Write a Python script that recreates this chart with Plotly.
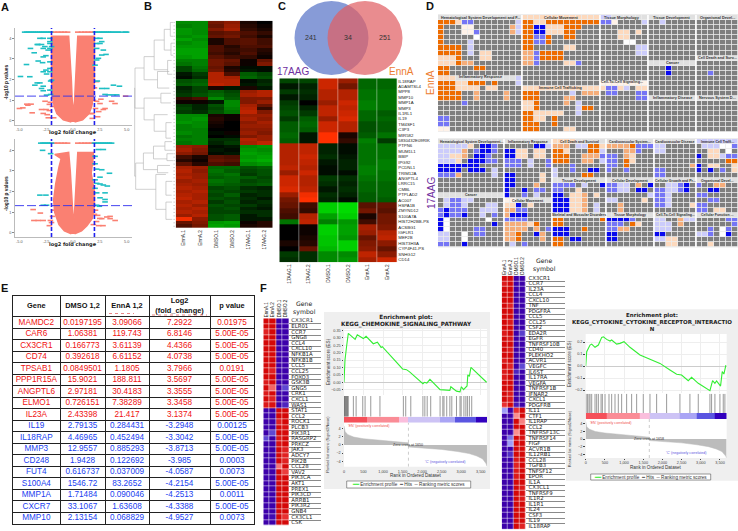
import plotly.graph_objects as go

W, H = 738, 531
FONT = "Liberation Sans"

# ---- panel A, volcano plots
v1_fill_x = [-0.15, -0.9, -1.5, -1.75, -1.9, -2, -2, -2, -0.4, -0.25, -0.15, -0.07, 0.05, 0.15, 0.25, 0.35, 0.45, 2, 2, 2, 1.9, 1.75, 1.5, 0.9, 0.15]
v1_fill_y = [-0.05, 0.05, 0.35, 0.7, 1.2, 2, 2.7, 4.1, 4.1, 3, 2, 1, 0.35, 1, 2, 3, 4.1, 4.1, 2.7, 2, 1.2, 0.7, 0.35, 0.05, -0.05]
v1_top_x = [-2, -1.7, -1.4, -1.1, -0.8, -0.5, 0.45, 0.8, 1.1, 1.4, 1.7, 2]
v1_pink_x = [-4.99, -4.67, -4.2, -3.9, -3.8, -4.3, -2.93, -2.77, 1.6, 2.52, 2.83, 2.99, 3.6, 3.92, 1.74, -2.4, -2.2, -1.9, -2.1, -1.8, 1.9, 2.1, 1.8, -1.95, 2.0, 2.2, 4.9, -2.3, -2.6, -2.5, -2.2, 2.3, 2.4, 2.2, 2.6, -1.8, 1.8]
v1_pink_y = [0.6, 0.63, 0.76, 0.81, 0.39, 0.81, 0.55, 0.36, 0.84, 0.84, 0.55, 0.6, 0.95, 0.84, 0.36, 0.3, 0.5, 0.7, 0.9, 1.1, 1.0, 0.6, 0.35, 1.5, 1.6, 1.9, 1.2, 0.15, 0.95, 0.55, 0.8, 0.2, 0.45, 0.95, 1.05, 0.15, 0.12]
v1_cyan_x = [-3.08, -2.77, -2.15, -3.33, -2.93, -2.15, -3.24, -2.62, -2.15, -2.31, -2.77, -1.99, -3.96, -3.61, -2.15, -2.52, -2.77, -3.24, -2.83, -4.33, -2.15, -2.15, -2.52, -2.77, -2.15, -2.46, -4.89, -4.02, -1.99, -2.08, -3.33, -3.08, -3.55, -2.77, -2.93, -2.77, -2.46, -2.08, -2.15,
             2.21, 2.52, 2.68, 2.21, 2.52, 2.21, 2.83, 3.08, 2.68, 2.37, 2.21, 2.06, 2.27, 2.68, 3.15, 3.77, 4.33, 2.99, 3.3, 3.77, 4.08]
v1_cyan_y = [4.0, 4.0, 4.0, 3.7, 3.7, 3.75, 3.7, 3.6, 3.84, 3.43, 3.51, 3.6, 3.51, 3.3, 3.51, 3.16, 3.1, 2.9, 2.82, 2.73, 2.86, 2.54, 2.46, 2.38, 2.38, 2.27, 2.15, 2.14, 1.97, 1.93, 1.84, 1.84, 1.73, 1.68, 1.57, 1.46, 1.25, 1.28, 1.49,
             4.0, 4.0, 3.84, 3.75, 3.75, 3.51, 3.43, 3.22, 3.19, 3.03, 2.95, 2.7, 1.93, 1.57, 1.57, 1.73, 1.68, 1.28, 1.26, 1.26, 1.26]
v1_cyan_top = [-4.5, -4.3, -4.1, -3.9, -3.7, -3.5, -3.3, -3.1, -2.9, -2.7, -2.5, -2.3, -2.1, 2.1, 2.3, 2.5, 2.7, 2.9, 3.1, 3.3, 3.5, 3.7, 4.0, 4.2, 4.5, 4.9, 5.0]
v1_cut = 1.2

v2_fill_x = [-0.15, -0.8, -1.3, -1.7, -1.8, -1.6, -1.3, -1.1, -1.7, -0.4, -0.25, -0.15, -0.05, 0.05, 0.15, 0.25, 0.35, 0.45, 1.9, 1.9, 1.7, 2, 2, 1.8, 1.3, 0.8, 0.15]
v2_fill_y = [-0.05, 0.1, 0.4, 1, 1.6, 2.4, 3.2, 3.6, 3.8, 3.9, 3, 2, 1, 0.4, 1, 2, 3, 3.9, 3.9, 3.7, 2.9, 2, 1.3, 0.7, 0.35, 0.1, -0.05]
v2_top_x = [-2, -1.7, -1.4, -1.1, -0.8, -0.5, 0.45, 0.8, 1.1, 1.4, 1.7, 2]
v2_pink_x = [-3.71, -3.04, -3.64, -3.24, -2.77, 3.46, 3.46, 3.93, 2.68, 3.15, 1.9, 2.2, 2.4, 2.0, -1.9, -1.8, -2.0, 1.8, 2.1, 2.3, -2.2, -2.1, 2.5, 2.8]
v2_pink_y = [1.13, 0.96, 0.6, 0.6, 0.6, 0.69, 0.8, 0.6, 0.69, 0.77, 0.4, 0.55, 0.35, 0.9, 0.8, 1.1, 0.5, 3.3, 1.1, 0.85, 0.35, 0.6, 0.7, 0.35]
v2_cyan_x = [-2.83, -2.08, 2.37, 2.83, 2.06, 2.06, 2.21, 2.68, 3.4, 2.52, 2.06, 2.21, 2.52, 2.83, 3.2, 2.06, 2.21, 2.99, 2.52, 2.99, -3.08, -2.52, -2.77, -2.46, 2.21, 2.46, 2.99]
v2_cyan_y = [4.0, 3.84, 4.04, 4.04, 3.71, 3.35, 3.09, 3.06, 2.89, 2.7, 2.57, 2.4, 2.37, 2.32, 2.27, 2.16, 1.94, 1.94, 1.7, 1.5, 1.83, 1.83, 1.34, 1.34, 1.34, 1.29, 1.62]
v2_cyan_top = [-3, -2.8, -2.6, -2.4, -2.2, -2, 2, 2.2, 2.4, 2.6, 2.8, 3, 3.2, 3.4, 3.6]
v2_cut = 1.32

# ---- panel B, clustered heatmap
b_columns = ["EnnA.1", "EnnA.2", "DMSO.1", "DMSO.2", "17AAG.1", "17AAG.2"]
b_rows = [
    [-.6, -.6, .45, .55, .1, .0], [-.55, -.6, .4, .6, .15, .05], [-.65, -.6, .5, .65, .2, .1],
    [-.65, -.6, .35, .4, .3, .2], [-.6, -.65, .4, .45, .25, .1], [-.7, -.6, .1, .3, .35, .25],
    [-.6, -.65, .1, .3, .35, .25], [-.65, -.65, .3, .15, .3, .3], [-.7, -.7, .3, .2, .25, .15],
    [-.7, -.7, .25, .15, .3, .1], [-.65, -.7, .35, .25, .2, .05], [-.55, -.55, .45, .4, .05, .4],
    [-.5, -.55, .45, .35, .05, .5], [-.3, -.5, .4, .1, -.05, -.05], [-.3, -.45, .45, .15, -.1, -.05],
    [-.1, -.25, .7, .3, -.4, -.3], [-.05, -.2, .7, .65, -.45, -.35], [-.35, -.4, .7, .7, -.05, -.15],
    [-.4, -.45, .75, .7, -.1, -.2], [-.15, -.3, .1, -.1, .1, -.1], [-.2, -.3, -.4, -.3, .6, .7],
    [-.25, -.35, -.45, -.35, .65, .7], [.2, .3, -.6, -.4, .5, .5], [.05, .05, -.1, -.6, .5, .6],
    [-.25, -.15, -.35, -.6, .65, .4], [-.3, -.15, -.3, -.55, .7, .2], [-.25, -.2, -.35, -.5, .75, .5],
    [-.6, -.6, .1, .05, .6, .6], [-.6, -.65, .15, .05, .65, .55], [-.65, -.6, .1, .0, .55, .65],
    [-.55, -.6, .05, .0, .6, .6], [-.55, -.55, 0, 0, .55, .55], [-.6, -.55, -.05, .05, .6, .5],
    [-.5, -.55, 0, -.05, .5, .6], [-.55, -.55, -.2, -.2, .7, .6], [-.5, -.55, -.15, -.25, .65, .75],
    [.6, .55, -.05, -.1, -.6, -.65], [.65, .5, -.1, -.05, -.65, -.6], [.55, .45, -.05, -.1, -.7, -.65],
    [.25, .1, .35, .3, -.65, -.7], [.15, .05, .4, .35, -.7, -.75], [.35, .15, .3, .25, -.6, -.65],
    [.65, .6, -.45, -.45, -.35, -.4], [.7, .55, -.5, -.4, -.3, -.35], [.65, .6, -.45, -.5, -.25, -.35],
    [.7, .6, -.4, -.45, -.4, -.3], [.6, .65, -.5, -.45, -.3, -.35], [.65, .6, -.45, -.4, -.35, -.4],
    [.7, .65, -.3, -.35, -.2, -.15], [.65, .7, -.35, -.3, -.25, -.2], [.7, .65, -.3, -.4, -.15, -.2],
    [.75, .65, -.35, -.3, -.2, -.1], [.65, .7, -.25, -.35, -.15, -.2], [.7, .6, -.35, -.3, -.25, -.15],
    [.65, .7, -.3, -.35, -.15, -.1], [.7, .65, -.3, -.3, -.2, -.2], [.6, .7, -.35, -.4, -.1, -.2],
    [.95, .55, -.35, -.4, -.1, -.1], [.4, .5, -.65, -.7, .05, .15], [.3, .45, -.7, -.65, .1, .15],
]
# height, row a, child height a, row b, child height b
b_brackets = [
    (120, 19, 119, 44.5, 117), (119, 13.2, 92, 24.8, 92), (92, 9.9, 62, 16.6, 52), (62, 5.1, 32, 13.7, 22),
    (52, 14.2, 17, 19, 17), (92, 21.9, 42, 28.2, 62), (42, 20.5, 12, 23.3, 12), (62, 26.7, 22, 31.5, 27),
    (117, 40.7, 94, 48.3, 57), (94, 37.8, 64, 42.6, 52), (64, 35.8, 30, 39.5, 24), (52, 41.4, 15, 43.5, 20),
    (57, 44, 27, 54.1, 27), (32, 2, 14, 8, 12), (22, 11, 10, 15, 8), (27, 29, 10, 33.5, 12), (27, 46, 8, 50, 10),
    (27, 52, 9, 57, 8), (30, 34.5, 9, 37, 7), (24, 38, 6, 40, 6), (14, 0, 6, 4, 6), (12, 6, 5, 9.5, 5),
]
b_leaf_rows = [0, 1, 2, 3, 4, 5, 6, 7, 8, 9, 10, 11, 12, 13, 14, 15, 16, 17, 18, 19, 20, 21, 22, 23, 24, 25, 26, 27, 28, 29, 30, 31, 32, 33, 34, 35, 36, 37, 38, 39, 40, 41, 42, 43, 44, 45, 46, 47, 48, 49, 50, 51, 52, 53, 54, 55, 56, 57, 58, 59]

# ---- panel C
venn_counts = ["241", "34", "251"]
c_columns = ["17AAG.1", "17AAG.2", "DMSO.1", "DMSO.2", "EnnA.1", "EnnA.2"]
c_genes = ["IL18RAP", "ADAMTSL4", "MPP8", "MMP10", "MMP1A", "MMP3", "IL1RL1", "IL19", "TM4SF1", "C3P3", "MIR582", "5830432E09RIK",
           "PTPN6", "MUM1L1", "BBIP", "IPG92", "PCDNL1", "TRIM12A", "ANGPTL4", "LRRC15", "CMBL", "PTPLAD2", "AC007",
           "HSPA1B", "ZMYND12", "S100A7A", "HIST2H2BB-PS", "ACSBG1", "IGFLR1", "MEF2B", "HIST3H3A", "CYP4F41-PS", "SNHG12", "CD14"]
c_rows = [
    [-.3, -.3, .8, .6, -.45, -.45], [-.1, -.15, .8, .45, -.45, -.45], [-.25, -.2, .7, .7, -.5, -.5], [-.1, -.15, .7, .7, -.5, -.5],
    [-.25, 0, .6, .8, -.55, -.5], [-.3, -.15, .75, .75, -.55, -.5], [-.35, -.25, .75, .8, -.45, -.4], [-.25, -.4, .6, .85, -.45, -.45],
    [-.4, -.45, .8, .7, -.35, -.4], [-.4, -.4, .8, .7, -.35, -.4], [-.45, -.1, 1, .1, -.4, -.5], [-.4, -.1, 1, .2, -.55, -.25],
    [.7, .75, -.15, -.05, -.5, -.5], [.7, .75, -.15, -.05, -.5, -.5], [.7, .8, -.2, -.1, -.5, -.5], [.7, .75, -.1, -.15, -.5, -.55],
    [.75, .7, -.05, -.15, -.55, -.55], [.6, .8, -.05, -.05, -.55, -.5], [.8, .7, -.25, -.2, -.5, -.5], [.8, .7, -.2, -.15, -.45, -.45],
    [.85, .75, -.1, -.2, -.45, -.45], [.6, .95, -.2, -.15, -.4, -.45], [.45, 1, -.15, -.05, -.4, -.4],
    [.4, .25, -.9, -.95, .35, .4], [.3, .2, -.9, -.95, .45, .35], [.25, .7, -.7, -.9, .1, .45], [-.5, .75, -.55, -.65, .25, .45],
    [0, .05, -.9, -.7, .65, .5], [0, .05, -.9, -.7, .6, .7], [0, .1, -.85, -.65, .4, .75], [.1, .15, -.85, -.9, .5, .55],
    [0, .4, -.8, -.9, .55, .4], [-.25, -.2, -.6, -.6, .75, .55], [-.2, -.2, -.6, -.65, .65, .8],
]

# ---- panel D, treemaps coded by tile: . grey, t title, q pale, a peach, b light orange, c orange, x lavender, y periwinkle, z blue, w white
dot = "."
top_blood = ["tttttttttttttt", "cccayy.......x", "c...qq......bx", "c...qqy.....bx", "c.....w.......", "c....x........", "cccc.x........", "cccc.x.aa.....",
             "aaac...aa.....", "aaacbb........", "cc....cc......", "cc............", "aaattttttttttx", "cccaaccc.c...x", "cccaaaa.aa....", "cccc..b....b..",
             "cccc..b....b..", "....y.........", "", "", "yy............", "yy............", "qq............"]
top_move = ["aaaaaaaaaaaaa", "ccaaccccccccc", "cczzaaaccc...", "cczzaaacc....", "ccyyc..cc....", "ccyyc........", "cc.....aa....", "bbycccc......", "bbycccc......",
            "bby....aay...", "", "", "", "", "aaaaaaaaaaaaa", "ccc.....x.bbb", "ccc....bb....", "aac....b.x...", "aac......xcc.", "ccaaaaa..x...", "ccaa.c.......",
            "ccc..c.......", "ccc....aa...."]
top_tissue = ["xxtttttt", "yyq....x", "", "...aa.a.", "...aa...", "....ww..", "......xx", "......xx", "", "", "", "", "", "qqqqqqqq", "ayyax.aa", ".yy...yy", "......yy"]
top_dev = ["tttttttt", "..x.....", "", "", "", "", "", "", "", "tttttttt", "...z....", "...z....", "", "", "", "", "tttttttt"]
top_organ = ["ttttttt", "", "", "", "", "", "", "", "ttttttt", "", "", "..y....", "", "", "", "", "ttttttt"]
top_titles = ["Hematological System Development and F...", "Cellular Movement", "Tissue Morphology", "Tissue Development", "Organismal Devel...", "Inflammatory Response",
              "Immune Cell Trafficking", "Cell-To-Cell Signaling...", "Cancer", "Cell Death and Surv...", "Inflammatory Disease", "Nervous System D..."]

bot_blood = ["ttttttttttt", "xxxxxa.zzy.", "xxxxb.yzzy.", "xxaab.zzy..", "xxxa.zzzyy.", "zzzzzzz....", "zzzz.zzz.x.", "yyyb.....x.", "", "", "", "ttttttttttt", ".xyyxx.....",
             ".xyyx...xx.", "yzyyy..xxx.", "yzyyz..x.y.", "zw......w..", "zw.......z.", "zw....yy...", "xx..w.yy...", "xx..w......", "yy..z......"]
bot_inflam = ["tttttttt", ".....zzx", "zzaa.aa.", "zzaa.aa.", "yyy.x..y", "yyy.x..y", "", "zz....a.", "zz....a.", "zz...b..", "z..z.yy.", "z..y.x..", "qqtttttt", "aaz.a...",
              "bbyy....", "bzzz....", "yyyy....", "bbbbac..", "bbbb.b.y", "bbc..zb.", "bbc...b.", ".x.y...."]
bot_death = ["aaaattttt", "bbb.xxcca", "cca...ccx", "ccc..bbby", "ccc..bb.x", "...y.....", "x..y..zz.", "x....cc..", "ttttttttt", "yyyy.x..z", "yy..a....", "zz.aab.a.", "zzzaab...",
             "zzzaab.x.", "zzzaab.x.", "ttttttttt", "cc......c", "cc.......", "zzz..c...", "zzz......", "cc.zz....", "cc......."]
bot_cardio = ["tttttttt", "bbbbcyyy", "...bby..", "yy.ba...", "yy.ca...", "yy.c....", "y..y....", "", "tttttttt", "yyxx.b.z", "yyxx.zz.", ".......x", "xx....a.", "..b.....",
              "..b.....", "tttttttt", "zzzzy...", "yyy.ca..", "yybb....", "zz......", "zz......", ""]
bot_disease = ["ttttttt", "xx.....", "xx.....", "", "", "......b", "yy.....", "yy.....", "ttttttt", "..xxyz.", "yyxxyz.", "yyx....", "yyx....", "yyx...a", "", "ttttttt", "xx..bxx",
               "xxx.b..", "xxx....", "zz.....", "xxaa...", "..aa..."]
bot_immune = ["xxxxxxx", ".xxxwwy", "..aa.w.", "z.aaxyy", ".....cc", "z.aa..a", "z.z.y.a", "", "ttttttt", "y..bb..", "..zz...", "yy.....", "..yy...", "yy.....", "yy.aa..", "ttttttt",
              ".....yy", "......y", "..y.wy.", "xxy.wz.", "", "..a...."]
bot_titles = ["Hematological System Development...", "Inflammatory Response", "Cell Death and Survival", "Cardiovascular System...", "Cardiovascular Disease", "Immune Cell Traffi...", "Cancer",
              "Cellular Movement", "Tissue Development", "Skeletal and Muscular Disorders", "Cellular Development", "Cellular Growth and Pr...", "Organismal Devel...", "Tissue Morphology",
              "Cell-To-Cell Signaling...", "Cellular Function ..."]

# ---- panel E
table_header = ["Gene", "DMSO 1,2", "EnnA 1,2", "Log2<br>(fold_change)", "p value"]
table_genes = ["MAMDC2", "CAR6", "CX3CR1", "CD74", "TPSAB1", "PPP1R15A", "ANGPTL6", "ELMO1", "IL23A", "IL19", "IL18RAP", "MMP3", "CD248", "FUT4", "S100A4", "MMP1A", "CXCR7", "MMP10"]
table_dmso = ["0.0197195", "1.06381", "0.166773", "0.392618", "0.0849501", "15.9021", "2.97181", "0.726151", "2.43398", "2.79135", "4.46965", "12.9557", "1.9428", "0.616737", "1546.72", "1.71484", "33.1067", "2.13154"]
table_enna = ["3.09066", "119.743", "3.61139", "6.61152", "1.1805", "188.811", "30.4183", "7.38289", "21.417", "0.284431", "0.452494", "0.885293", "0.122692", "0.037009", "83.2652", "0.090046", "1.63608", "0.068829"]
table_log2 = ["7.2922", "6.8146", "4.4366", "4.0738", "3.7966", "3.5697", "3.3555", "3.3458", "3.1374", "-3.2948", "-3.3042", "-3.8713", "-3.985", "-4.0587", "-4.2154", "-4.2513", "-4.3388", "-4.9527"]
table_p = ["0.01975", "5.00E-05", "5.00E-05", "5.00E-05", "0.0191", "5.00E-05", "5.00E-05", "5.00E-05", "5.00E-05", "0.00125", "5.00E-05", "5.00E-05", "0.0003", "0.0073", "5.00E-05", "0.0011", "5.00E-05", "0.0073"]
table_up = 9

# ---- panel F
f_columns = ["EnnA.1", "EnnA.2", "DMSO.1", "DMSO.2"]
f1_genes = ["CX3CR1", "ELR01", "CCR7", "GNG8", "CCL4", "CXCL10", "NFKB1A", "NFKB1B", "CCL5", "CCL25", "FOXO3", "GSK3B", "GNG5", "CRK1", "CXCL1", "WAS1", "STAT1", "CCL2", "ROCK1",
            "PLCB3", "PIK3R1", "RASGRP2", "PRKCZ", "JAK3", "ADCY7", "PIK2B", "CCL28", "VAV2", "PIK3CA", "AKT1", "PREX1", "PIK3CD", "ARRB1", "PIK3R2", "GNB4", "CX3CL1", "CSK"]
f1_rows = [
    [.95, .95, -.9, -.9], [.9, .95, -.9, -.9], [.7, .95, -.9, -.9], [.95, .9, -.9, -.9], [.95, .95, -.9, -.9], [.95, .95, -.9, -.9], [.9, .95, -.9, -.9], [.95, .9, -.9, -.9], [.95, .95, -.9, -.9],
    [.95, .7, -.9, -.9], [.95, .95, -1, -.9], [.75, .9, -.9, -.9], [.95, .4, -.9, -.5], [.75, .95, -.9, -.9], [.95, .7, -.9, -.9], [.75, .8, -.9, -.65],
    [-.9, -.9, .95, .9], [-.9, -.9, .9, .95], [-.9, -.85, .7, .95], [-.9, -.9, .95, .8], [-.95, -.5, .95, .85], [-.5, -.9, .75, .95], [-.9, -.85, .8, .95], [-.9, -.9, .95, .7], [-.9, -.9, .95, .7],
    [-1, -.9, .95, .7], [-.95, -.9, .35, .9], [-.9, -.9, .95, .55], [-.9, -.9, .95, .9], [-.9, -.9, .95, .95], [-.9, -.9, .9, .95], [-.9, -.9, .95, .9], [-1, -.9, .95, .95], [-.9, -1, .95, .9], [-.9, -.9, .9, .95],
    [-.9, -.75, .95, .6], [-.9, -.9, .95, .95],
]
f2_genes = ["CX3CR1", "CCR7", "IL23A", "CCL4", "CXCL10", "TNF", "PDGFRA", "CCL5", "CCL25", "CSF2", "EDA2R", "EGFR", "TNFRSF10B", "CD40", "PLEKHO2", "ACVR1", "VEGFC", "IL6ST", "IL17RA", "VEGFA",
            "TNFRSF1B", "IFNAR2", "CXCL1", "PDGFRB", "IL11", "CTF1", "IL1RAP", "CCL2", "TNFRSF13C", "TNFRSF14", "FIGF", "ACVR1B", "IL12RB1", "CCL28", "TGFB3", "TNFSF12", "EPOR", "IL1A", "CX3CL1",
            "TNFRSF9", "IL1R2", "IL1R1", "IL24", "CSF3", "IL19", "IL18RAP"]
f2_rows = [
    [.95, .95, -.9, -.9], [.75, .95, -.9, -.9], [.95, .9, -.9, -.9], [.95, .95, -.9, -.9], [.95, .9, -.9, -.9], [.95, .7, -.9, -1], [.95, .95, -.9, -.9], [.95, .9, -.9, -.9], [.95, .75, -.9, -.9],
    [.95, .95, -.9, -1], [.75, .95, -.9, -.55], [.95, .75, -.9, -.9], [.95, .95, -.9, -.9], [.95, .75, -.9, -.9], [.9, .95, -.9, -.9], [.75, .95, -.9, -.9], [.95, .7, -.9, -.5], [.75, .95, -.65, -.9],
    [.75, .95, -.9, -.9], [.95, .95, -.9, -.9], [.95, .95, -1, -.9], [.95, .75, -.9, -.9], [.95, .75, -.9, -.9], [.6, .95, -.7, -.85],
    [-.25, -.9, .6, .95], [-.9, -.9, .25, .95], [-.9, -.9, .95, .3], [-1, -.9, .95, .95], [-1, -.9, .25, .95], [-.9, -.35, .95, .8], [-.9, -.25, .95, .95], [-.9, -.9, .95, .85], [-.9, -.6, .95, .95],
    [-.9, -1, .75, .95], [-.9, -.9, .7, .95], [-.95, -1, .75, .95], [-1, -.9, .75, .95], [-1, -.9, .95, .95], [-.9, -1, .95, .75], [-.9, -.9, .95, .8], [-.9, -.9, .95, .75], [-.9, -.9, .95, .95],
    [-.9, -.9, .95, .95], [-.9, -.9, .95, .95], [-.9, -.9, .95, .9], [-.9, -.9, .95, .7],
]

g1_title = "Enrichment plot:<br>KEGG_CHEMOKINE_SIGNALING_PATHWAY"
g1_rank = [0, 25, 70, 110, 285, 340, 495, 565, 750, 855, 950, 980, 1500, 1600, 1680, 2020, 2060, 2120, 2200, 2460, 2710, 2735, 2880, 2970, 3005, 3060, 3150, 3170, 3210, 3250, 3650]
g1_es = [0, .15, .25, .33, .29, .32, .295, .31, .26, .27, .235, .24, .09, .085, .07, -.01, 0, -.005, .02, -.05, -.055, -.03, -.06, -.065, -.03, -.05, -.025, .05, .04, .1, 0]
g1_hits = [5, 15, 30, 45, 60, 75, 90, 110, 240, 310, 480, 540, 685, 920, 1520, 1580, 1710, 2020, 2070, 2130, 2220, 2460, 2530, 2560, 2630, 2710, 2760, 2880, 2970, 3000, 3070, 3120, 3160, 3210, 3270]
g1_metric_rank = [0, 30, 100, 250, 500, 900, 1300, 1650, 1650, 2000, 2500, 2900, 3200, 3400, 3550, 3640, 3660]
g1_metric = [4.6, 3.2, 2.5, 1.9, 1.5, 1.1, .8, .5, -.5, -.7, -1.1, -1.6, -2.1, -2.7, -3.4, -4.6, -5.2]
g1_band_edges = [0, 580, 1400, 1650, 2470, 2850, 3370, 3661]
g1_zero = 1650

g2_title = "Enrichment plot:<br>KEGG_CYTOKINE_CYTOKINE_RECEPTOR_INTERACTIO<br>N"
g2_rank = [0, 26, 113, 156, 243, 330, 417, 460, 547, 634, 677, 807, 894, 998, 1154, 1415, 1675, 1936, 2196, 2370, 2500, 2673, 2760, 2934, 3238, 3307, 3368, 3411, 3515, 3559, 3602, 3654]
g2_es = [0, .12, .175, .183, .156, .175, .239, .244, .222, .208, .217, .183, .189, .203, .156, .092, .056, .022, -.033, -.069, -.075, -.122, -.094, -.144, -.206, -.122, -.144, -.125, -.167, -.047, -.067, .008]
g2_hits = [10, 45, 85, 113, 156, 243, 286, 330, 400, 434, 503, 607, 677, 764, 850, 937, 1067, 1197, 1328, 1501, 1675, 1849, 2109, 2456, 2716, 2934, 3238, 3281, 3368, 3498, 3585, 3628]
g2_metric_rank = [0, 30, 100, 250, 500, 800, 1100, 1660, 1660, 2000, 2500, 2900, 3200, 3400, 3550, 3650, 3670]
g2_metric = [4.6, 3.2, 2.6, 2.0, 1.6, 1.3, 1.0, .5, -.4, -.6, -1, -1.5, -2, -2.6, -3.3, -4.5, -5]
g2_band_edges = [0, 550, 1415, 1660, 2460, 2890, 3370, 3675]
g2_zero = 1658
band_values = [0, 1, 2, 3, 4, 5, 6]
band_colors = ["#f5505a", "#fa8c96", "#fabedc", "#cdc3f5", "#aaa5f5", "#5a55e1", "#3200be"]

traces = []
layout = {}
shapes = []
notes = []
axis_no = 0
rg_scale = [[0, "#00e600"], [.5, "#000000"], [1, "#ff3000"]]
br_scale = [[0, "#3c00aa"], [.1, "#3c00aa"], [.3, "#6a60e0"], [.38, "#a0a0f8"], [.5, "#ffffff"], [.62, "#fa9090"], [.8, "#e83030"], [.93, "#d40808"], [1, "#d40808"]]


def panel(x0, y0, x1, y1, xkw=None, ykw=None):
    # one pair of axes placed by its pixel rectangle
    global axis_no
    axis_no += 1
    n = axis_no
    blank = dict(showgrid=False, zeroline=False, showticklabels=False, ticks="", showline=False)
    xa = dict(blank, domain=[x0 / W, x1 / W], anchor=f"y{n}")
    ya = dict(blank, domain=[1 - y1 / H, 1 - y0 / H], anchor=f"x{n}")
    xa.update(xkw or {})
    ya.update(ykw or {})
    layout[f"xaxis{n}"] = xa
    layout[f"yaxis{n}"] = ya
    return f"x{n}", f"y{n}"


def note(x, y, text, size=5, color="#222222", angle=0, anchor="center", family=FONT, **kw):
    notes.append(dict(x=x / W, y=1 - y / H, xref="paper", yref="paper", text=text, showarrow=False, textangle=angle,
                      xanchor=anchor, yanchor="middle", font=dict(size=size, color=color, family=family), **kw))


def box(x0, y0, x1, y1, fill="rgba(0,0,0,0)", line=None, width=1, kind="rect", layer="below"):
    shapes.append(dict(type=kind, xref="paper", yref="paper", x0=x0 / W, x1=x1 / W, y0=1 - y1 / H, y1=1 - y0 / H, fillcolor=fill,
                       line=dict(color=line or "rgba(0,0,0,0)", width=width if line else 0), layer=layer))


def volcano(x0, y0, y1, yrange, fill_x, fill_y, top_x, pink_x, pink_y, cyan_x, cyan_y, cyan_top, cut):
    tick = dict(size=3.8, color="#555555", family=FONT)
    xa, ya = panel(x0, y0, 132, y1,
                   dict(range=[-5.4, 5.5], tickvals=[-5, -2.5, 0, 2.5, 5], ticktext=["-5.0", "-2.5", "0.0", "2.5", "5.0"], showticklabels=True, tickfont=tick,
                        ticks="outside", ticklen=.5, tickwidth=.5, tickcolor="#888888", showline=True, linecolor="#bbbbbb", linewidth=.6),
                   dict(range=yrange, tickvals=[0, 1, 2, 3, 4], showticklabels=True, tickfont=tick,
                        ticks="outside", ticklen=2, tickwidth=.5, tickcolor="#888888", showline=True, linecolor="#bbbbbb", linewidth=.6))
    pink = "#fa8072"
    cyan = "#1fbfc4"
    top_y = yrange[1] - .2
    dash = lambda col: dict(symbol="line-ew", size=4, line=dict(color=col, width=1.6))
    traces.append(go.Scatter(x=fill_x, y=fill_y, mode="lines", fill="toself", fillcolor=pink, line=dict(color=pink, width=1.5), xaxis=xa, yaxis=ya))
    traces.append(go.Scatter(x=top_x + pink_x, y=[top_y] * len(top_x) + pink_y, mode="markers", marker=dash(pink), xaxis=xa, yaxis=ya))
    traces.append(go.Scatter(x=cyan_top + cyan_x, y=[top_y] * len(cyan_top) + cyan_y, mode="markers", marker=dash(cyan), xaxis=xa, yaxis=ya))
    blue = dict(color="#2020ee", width=1.6, dash="4px,2px")
    for v in (-2, 2):
        traces.append(go.Scatter(x=[v, v], y=yrange, mode="lines", line=blue, xaxis=xa, yaxis=ya))
    traces.append(go.Scatter(x=[-5.4, 5.5], y=[cut, cut], mode="lines", line=dict(color="#3030ee", width=.9, dash="9px,3px"), xaxis=xa, yaxis=ya))
    note(73, y1 + 8, "<b>log2 fold change</b>", size=5, family="DejaVu Sans")
    note(6, (y0 + y1) / 2 + 6, "<b>-log10 p values</b>", size=4.8, angle=-90)


def treemap(groups, x0, y0, y1, rows):
    # groups are stitched side by side, a short or empty row is plain grey
    codes = ".tqabcxyzw"
    colours = ["#7f7f7f", "#e0e0e0", "#fff2e8", "#fdd9bd", "#f5ad7a", "#ee6c00", "#ccccfb", "#7575f5", "#0808ee", "#ffffff"]
    n = len(codes)
    scale = []
    for i, c in enumerate(colours):
        scale += [[i / n, c], [(i + 1) / n, c]]
    widths = [w for _, w in groups]
    z = []
    for r in range(rows):
        line = ""
        for g, w in groups:
            line += (g[r] if r < len(g) else "").ljust(w, dot)[:w]
        z.append([codes.index(ch) + .5 for ch in line])
    cols = sum(widths)
    xa, ya = panel(x0, y0, x0 + cols * 6, y1, dict(range=[-.5, cols - .5]), dict(range=[rows - .5, -.5]))
    traces.append(go.Heatmap(z=z, colorscale=scale, zmin=0, zmax=n, showscale=False, xgap=.8, ygap=.8, hoverinfo="skip", xaxis=xa, yaxis=ya))
    at = x0
    for w in widths[:-1]:
        at += w * 6
        box(at - .8, y0, at + .8, y1, fill="#ffffff", layer="above")


def gene_heat(x0, x1, label_x1, y0, y1, rows, genes):
    n = len(rows)
    xa, ya = panel(x0, y0, x1, y1,
                   dict(side="top", range=[-.5, 3.5], tickvals=[0, 1, 2, 3], ticktext=f_columns, tickangle=-90, showticklabels=True, tickfont=dict(size=4.6, color="#222222", family=FONT)),
                   dict(range=[n - .5, -.5]))
    traces.append(go.Heatmap(z=rows, colorscale=br_scale, zmin=-1, zmax=1, showscale=False, xgap=.5, ygap=.5, hoverinfo="skip", xaxis=xa, yaxis=ya))
    xb, yb = panel(x1, y0, label_x1, y1, dict(range=[0, 1]), dict(range=[n - .5, -.5], showgrid=True, gridcolor="#8a8a8a", gridwidth=.7, tick0=.5, dtick=1))
    traces.append(go.Scatter(x=[.07] * n, y=list(range(n)), mode="text", text=genes, textposition="middle right", textfont=dict(size=5.4, color="#222222", family="DejaVu Sans"),
                             hoverinfo="skip", xaxis=xb, yaxis=yb))
    note((x1 + label_x1) / 2 - 1, y0 - 10.5, "Gene<br>symbol", size=6.2, family="DejaVu Sans")


def gsea(rect, title, title_y, title_size, xrange, es_range, es_ticks, es_fmt, metric_range, rank, es, hits, metric_rank, metric, band_edges, zero, layout_px):
    bx0, by0, bx1, by1 = rect
    px0, px1, es0, es1, hit1, band1, met1, lab_tick, lab_rank, lx0, lx1, ly0, ly1 = layout_px
    box(bx0, by0, bx1, by1, fill="#efefef")
    box(px0, es0, px1, met1, fill="#ffffff")
    note((bx0 + bx1) / 2, title_y, f"<b>{title}</b>", size=title_size, family="DejaVu Sans", align="center")
    ticks = [0, 500, 1000, 1500, 2000, 2500, 3000, 3500]
    tf = dict(size=3.8, color="#444444", family=FONT)
    xa, ya = panel(px0, es0, px1, es1, dict(range=xrange, showgrid=True, gridcolor="#eeeeee", tickvals=ticks),
                   dict(range=es_range, tickvals=es_ticks, tickformat=es_fmt, showticklabels=True, tickfont=tf, showgrid=True, gridcolor="#eeeeee", zeroline=True, zerolinecolor="#cccccc", zerolinewidth=1.2, ticks="outside", ticklen=1.5, tickwidth=.4))
    traces.append(go.Scatter(x=rank, y=es, mode="lines", line=dict(color="#33ee33", width=1.1), xaxis=xa, yaxis=ya))
    xb, yb = panel(px0, es1 + 1, px1, hit1, dict(range=xrange), dict(range=[0, 1]))
    hx, hy = [], []
    for h in hits:
        hx += [h, h, None]
        hy += [0, 1, None]
    traces.append(go.Scatter(x=hx, y=hy, mode="lines", line=dict(color="#555555", width=.6), xaxis=xb, yaxis=yb))
    xc, yc = panel(px0, hit1, px1, band1, dict(range=xrange), dict(range=[0, 1]))
    scale = []
    for i, c in enumerate(band_colors):
        scale += [[i / 7, c], [(i + 1) / 7, c]]
    traces.append(go.Heatmap(x=band_edges, y=[0, 1], z=[[v + .5 for v in band_values]], colorscale=scale, zmin=0, zmax=7, showscale=False, hoverinfo="skip", xaxis=xc, yaxis=yc))
    xd, yd = panel(px0, band1, px1, met1,
                   dict(range=xrange, tickvals=ticks, tickformat=",d", showticklabels=True, tickfont=tf, ticks="outside", ticklen=.5, tickwidth=.4),
                   dict(range=metric_range, tickvals=[-4, -2, 0, 2, 4], showticklabels=True, tickfont=tf, ticks="outside", ticklen=1.5, tickwidth=.4))
    traces.append(go.Scatter(x=metric_rank, y=metric, mode="lines", fill="tozeroy", fillcolor="#bcbcbc", line=dict(color="#bcbcbc", width=.5), xaxis=xd, yaxis=yd))
    traces.append(go.Scatter(x=[zero, zero], y=metric_range, mode="lines", line=dict(color="#999999", width=.5, dash="dot"), xaxis=xd, yaxis=yd))
    xm = px0 + (px1 - px0) * zero / xrange[1]
    note(xm, (band1 + met1) / 2 + 0.5, f"Zero cross at {zero}", size=3.6, color="#333333")
    note(px0 + 2, band1 + 3.5, "'EN' (positively correlated)", size=3.6, color="#f05050", anchor="left")
    note(xm + 15, met1 - 5, "'C' (negatively correlated)", size=3.6, color="#5a55e1", anchor="left")
    note((px0 + px1) / 2, lab_rank, "Rank in Ordered Dataset", size=4.6, color="#333333")
    note(px0 - 16, (es0 + es1) / 2, "Enrichment score (ES)", size=4.6, color="#333333", angle=-90)
    note(px0 - 16, (band1 + met1) / 2, "Ranked list metric (Signal2Noise)", size=3.8, color="#333333", angle=-90)
    box(lx0, ly0, lx1, ly1, fill="#ffffff", line="#555555", width=.6)
    note((lx0 + lx1) / 2, (ly0 + ly1) / 2, "<span style='color:#33ee33'><b>━━</b></span> Enrichment profile  ━ Hits  ─ Ranking metric scores", size=4.6, color="#333333")


def ruled_table(x0, y0, col_widths, head_height, row_height, columns):
    # text laid on an axis pair whose grid lines are the cell borders
    col_edges = [0]
    for w in col_widths:
        col_edges.append(col_edges[-1] + w)
    rows = len(columns[0])
    row_edges = [0, head_height] + [head_height + row_height * (i + 1) for i in range(rows)]
    rule = dict(showgrid=True, gridcolor="#222222", gridwidth=1, showline=True, linecolor="#222222", linewidth=1, mirror=True)
    xa, ya = panel(x0, y0, x0 + col_edges[-1], y0 + row_edges[-1], dict(rule, range=[0, col_edges[-1]], tickvals=col_edges),
                   dict(rule, range=[row_edges[-1], 0], tickvals=row_edges))
    row_mid = [(a + b) / 2 for a, b in zip(row_edges[1:], row_edges[2:])]
    colors = ["#f01010"] * table_up + ["#2040f0"] * (rows - table_up)
    for i, values in enumerate(columns):
        mid = (col_edges[i] + col_edges[i + 1]) / 2
        traces.append(go.Scatter(x=[mid], y=[head_height / 2], mode="text", text=[f"<b>{table_header[i]}</b>"], textfont=dict(size=7.4, color="#111111", family=FONT), xaxis=xa, yaxis=ya))
        traces.append(go.Scatter(x=[mid] * rows, y=row_mid, mode="text", text=values, textfont=dict(size=8.2, color=colors, family=FONT), xaxis=xa, yaxis=ya))


# panel A
volcano(15, 28, 125, [-.2, 4.5], v1_fill_x, v1_fill_y, v1_top_x, v1_pink_x, v1_pink_y, v1_cyan_x, v1_cyan_y, v1_cyan_top, v1_cut)
volcano(15, 139, 237, [-.2, 4.55], v2_fill_x, v2_fill_y, v2_top_x, v2_pink_x, v2_pink_y, v2_cyan_x, v2_cyan_y, v2_cyan_top, v2_cut)

# panel B
xa, ya = panel(175.7, 20.7, 272.7, 228,
               dict(range=[-.5, 5.5], tickvals=list(range(6)), ticktext=b_columns, tickangle=-90, showticklabels=True, tickfont=dict(size=4.8, color="#222222", family=FONT)),
               dict(range=[59.5, -.5]))
traces.append(go.Heatmap(z=b_rows, colorscale=rg_scale, zmin=-1, zmax=1, showscale=False, hoverinfo="skip", xaxis=xa, yaxis=ya))
dx, dy = [], []
for h, r0, c0, r1, c1 in b_brackets:
    dx += [c0, h, h, c1, None]
    dy += [r0, r0, r1, r1, None]
for r in b_leaf_rows:
    dx += [0, 5, None]
    dy += [r, r, None]
xa, ya = panel(134, 20.7, 175, 228, dict(range=[122, 0]), dict(range=[59.5, -.5]))
traces.append(go.Scatter(x=dx, y=dy, mode="lines", line=dict(color="#b0b0b0", width=.6), xaxis=xa, yaxis=ya))

# panel C
box(294.5, 1, 368.5, 75, fill="rgba(105,130,205,0.8)", kind="circle")
box(327.5, 1, 402.5, 75, fill="rgba(225,95,100,0.72)", kind="circle")
for x, t in zip([311, 348, 385], venn_counts):
    note(x, 37.5, t, size=7, color="#333333")
note(293, 71, "17AAG", size=10, color="#7030a0")
note(401, 71, "EnnA", size=10, color="#ed7d31")
xa, ya = panel(279.3, 78.3, 397.3, 262.3,
               dict(range=[-.5, 5.5], tickvals=list(range(6)), ticktext=c_columns, tickangle=-90, showticklabels=True, tickfont=dict(size=4.8, color="#222222", family=FONT)),
               dict(range=[33.5, -.5], side="right", tickvals=list(range(34)), ticktext=c_genes, showticklabels=True, tickfont=dict(size=4.3, color="#222222", family=FONT)))
traces.append(go.Heatmap(z=c_rows, colorscale=rg_scale, zmin=-1, zmax=1, showscale=False, xgap=.4, ygap=0, hoverinfo="skip", xaxis=xa, yaxis=ya))

# panel D
box(438, 14, 738, 132, fill="#ececec")
treemap([(top_blood, 14), (top_move, 13), (top_tissue, 8), (top_dev, 8), (top_organ, 7)], 438, 15, 131.7, 23)
for (x, y), t in zip([(480, 17.5), (561, 17.5), (622, 17.5), (672, 17.5), (717, 17.5), (480, 77.5), (561, 87.5), (622, 82.5), (672, 62.5), (717, 57.5), (672, 97.5), (717, 97.5)], top_titles):
    note(x, y, f"<b>{t}</b>", size=3.8, color="#333333")
box(438, 138, 738, 247.5, fill="#ececec")
treemap([(bot_blood, 11), (bot_inflam, 8), (bot_death, 9), (bot_cardio, 8), (bot_disease, 7), (bot_immune, 7)], 438, 139, 247, 22)
for (x, y), t in zip([(471, 141.5), (528, 141.5), (579, 141.5), (630, 141.5), (675, 141.5), (717, 141.5), (471, 195.5), (528, 200.5), (579, 181), (579, 215), (630, 181), (675, 181), (717, 181), (630, 215), (675, 215), (717, 215)], bot_titles):
    note(x, y, f"<b>{t}</b>", size=3.5, color="#333333")
note(431, 83, "EnnA", size=10, color="#ed7d31", angle=-90)
note(431, 193, "17AAG", size=10, color="#7030a0", angle=-90)

# panel E
ruled_table(12.7, 295.7, [47.3, 45, 44, 61, 44], 21, 11.5, [table_genes, table_dmso, table_enna, table_log2, table_p])
for a, b, y in [(109, 134, 313.5), (152, 207, 315)]:
    shapes.append(dict(type="line", xref="paper", yref="paper", x0=a / W, x1=b / W, y0=1 - y / H, y1=1 - y / H, line=dict(color="#e05050", width=.7, dash="dot"), layer="above"))

# panel F
gene_heat(263.3, 289, 321, 318.3, 525.7, f1_rows, f1_genes)
gene_heat(501.7, 525.7, 565, 275.7, 529.3, f2_rows, f2_genes)
gsea((324, 312, 490, 489), g1_title, 320.5, 5.7, [0, 3661], [-.086, .3595], [-.05, 0, .05, .1, .15, .2, .25, .3, .35], ".2f", [-5.3, 5.4],
     g1_rank, g1_es, g1_hits, g1_metric_rank, g1_metric, g1_band_edges, g1_zero,
     (344, 487, 329, 395, 416.7, 422.7, 466.7, 469, 475.5, 346.7, 470.7, 481, 488))
gsea((566, 309.3, 738, 480.7), g2_title, 321.5, 5.5, [0, 3675], [-.2225, .267], [-.2, -.1, 0, .1, .2], ".1f", [-5, 5.3],
     g2_rank, g2_es, g2_hits, g2_metric_rank, g2_metric, g2_band_edges, g2_zero,
     (585.7, 726.7, 334, 392.7, 413, 419, 458, 461.7, 467.7, 590.7, 710.7, 474, 480))

# panel letters
for x, y, t in [(5, 7, "A"), (148, 6, "B"), (282, 6, "C"), (430, 6, "D"), (4, 288, "E"), (263, 288, "F")]:
    note(x, y, f"<b>{t}</b>", size=11, color="#111111")

fig = go.Figure(data=traces)
fig.update_layout(width=W, height=H, margin=dict(l=0, r=0, t=0, b=0), paper_bgcolor="#ffffff", plot_bgcolor="rgba(0,0,0,0)", showlegend=False,
                  shapes=shapes, annotations=notes, font=dict(family=FONT), **layout)
fig.write_html("out.html", config={"displayModeBar": False}, post_script="document.body.style.margin='0';")
